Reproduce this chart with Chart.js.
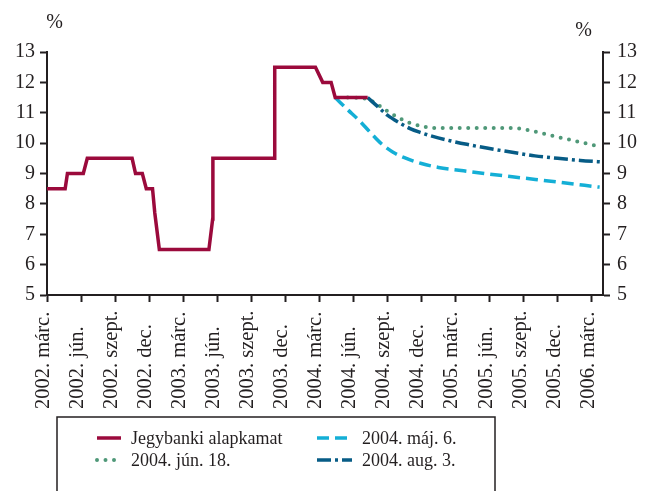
<!DOCTYPE html>
<html>
<head>
<meta charset="utf-8">
<script src="https://cdn.jsdelivr.net/npm/chart.js@4/dist/chart.umd.min.js"></script>
<style>
    body { margin: 0; background: #fff; }
    #chart { display: block; }
</style>
</head>
<body>
<canvas id="chart" width="649" height="491"></canvas>
<script>
// x values are months counted from 2002. márc. (0) on a linear scale
const tickLabels = [
    '2002. márc.', '2002. jún.', '2002. szept.', '2002. dec.',
    '2003. márc.', '2003. jún.', '2003. szept.', '2003. dec.',
    '2004. márc.', '2004. jún.', '2004. szept.', '2004. dec.',
    '2005. márc.', '2005. jún.', '2005. szept.', '2005. dec.',
    '2006. márc.'
];

// Jegybanki alapkamat
const baseMonths = [0, 1.6, 1.8, 3.2, 3.55, 7.5, 7.8, 8.4, 8.75, 9.3, 9.5, 9.9, 14.27, 14.6, 14.62, 20.05, 20.07, 23.66, 24.3, 25.04, 25.4, 28.26];
const baseRates = [8.5, 8.5, 9.0, 9.0, 9.5, 9.5, 9.0, 9.0, 8.5, 8.5, 7.7, 6.5, 6.5, 7.5, 9.5, 9.5, 12.5, 12.5, 12.0, 12.0, 11.5, 11.5];

// 2004. máj. 6.
const mayMonths = [25.4, 26.5, 27.5, 28.5, 29.5, 30.5, 31.5, 33, 34.5, 36.5, 39, 42, 45, 48.7];
const mayRates = [11.5, 11.1, 10.75, 10.35, 9.97, 9.7, 9.52, 9.33, 9.2, 9.1, 8.98, 8.85, 8.72, 8.55];

// 2004. jún. 18.
const junMonths = [26.5, 28.2, 29, 30, 31, 32, 33, 34, 37, 41, 42, 43, 44, 45, 46, 47, 48, 48.9];
const junRates = [11.5, 11.45, 11.3, 11.05, 10.83, 10.66, 10.56, 10.5, 10.5, 10.5, 10.46, 10.38, 10.29, 10.2, 10.12, 10.03, 9.95, 9.87];

// 2004. aug. 3.
const augMonths = [28.26, 29, 30, 31, 32, 33, 34, 35.5, 37, 39, 41, 43, 45, 47, 48.9];
const augRates = [11.5, 11.25, 10.92, 10.68, 10.48, 10.34, 10.22, 10.08, 9.96, 9.82, 9.7, 9.58, 9.5, 9.43, 9.38];

const INK = '#231f20';
const FONT = '"Liberation Serif", "Times New Roman", serif';

function toPoints(xs, ys) {
    return xs.map((x, i) => ({ x: x, y: ys[i] }));
}

// draws % signs, rotated x labels and the boxed legend
const extrasPlugin = {
    id: 'extras',
    afterDraw(chart) {
        const ctx = chart.ctx;
        const xScale = chart.scales.x;
        ctx.save();
        ctx.fillStyle = INK;

        // % signs above both axes
        ctx.font = '20px ' + FONT;
        ctx.textAlign = 'center';
        ctx.textBaseline = 'middle';
        ctx.fillText('%', 54.5, 23);
        ctx.fillText('%', 583.5, 31);

        // x labels, reading upwards, starting at the same height
        ctx.font = '20.5px ' + FONT;
        xScale.ticks.forEach(t => {
            const label = tickLabels[Math.round(t.value / 3)];
            if (!label) return;
            ctx.save();
            ctx.translate(xScale.getPixelForValue(t.value) + 2, 409);
            ctx.rotate(-Math.PI / 2);
            ctx.textAlign = 'left';
            ctx.textBaseline = 'alphabetic';
            ctx.fillText(label, 0, 0);
            ctx.restore();
        });

        // legend box
        ctx.strokeStyle = INK;
        ctx.lineWidth = 1.5;
        ctx.strokeRect(57, 417, 438, 120);

        const slots = [
            { x: 97, w: 24, y: 438 },
            { x: 317, w: 35, y: 438 },
            { x: 97, w: 24, y: 460 },
            { x: 317, w: 35, y: 460 }
        ];
        ctx.font = '18px ' + FONT;
        ctx.textAlign = 'left';
        ctx.textBaseline = 'middle';
        chart.data.datasets.forEach((ds, i) => {
            const s = slots[i];
            ctx.save();
            ctx.strokeStyle = ds.borderColor;
            ctx.lineWidth = ds.borderWidth;
            ctx.lineCap = ds.borderCapStyle || 'butt';
            ctx.setLineDash(ds.borderDash || []);
            ctx.beginPath();
            ctx.moveTo(s.x, s.y);
            ctx.lineTo(s.x + s.w, s.y);
            ctx.stroke();
            ctx.restore();
            ctx.fillText(ds.label, s.x + s.w + 10, s.y + 1);
        });
        ctx.restore();
    }
};

const axisGrid = {
    drawOnChartArea: false,
    drawTicks: true,
    tickLength: 7,
    tickWidth: 2,
    tickColor: INK
};
const axisBorder = { color: INK, width: 2 };

new Chart(document.getElementById('chart'), {
    type: 'line',
    data: {
        datasets: [
            {
                label: 'Jegybanki alapkamat',
                data: toPoints(baseMonths, baseRates),
                borderColor: '#9b0a3c',
                borderWidth: 3.5,
                borderJoinStyle: 'miter',
                pointRadius: 0,
                tension: 0,
                order: 0
            },
            {
                label: '2004. máj. 6.',
                data: toPoints(mayMonths, mayRates),
                borderColor: '#14afd6',
                borderWidth: 3.5,
                borderDash: [12, 6],
                pointRadius: 0,
                cubicInterpolationMode: 'monotone',
                order: 1
            },
            {
                label: '2004. jún. 18.',
                data: toPoints(junMonths, junRates),
                borderColor: '#4f9878',
                borderWidth: 4,
                borderDash: [0, 8.5],
                borderCapStyle: 'round',
                pointRadius: 0,
                cubicInterpolationMode: 'monotone',
                order: 2
            },
            {
                label: '2004. aug. 3.',
                data: toPoints(augMonths, augRates),
                borderColor: '#075c86',
                borderWidth: 3.5,
                borderDash: [14, 4, 3, 4],
                pointRadius: 0,
                cubicInterpolationMode: 'monotone',
                order: 1
            }
        ]
    },
    options: {
        responsive: false,
        animation: false,
        devicePixelRatio: 1,
        layout: { padding: { top: 52, left: 0, right: 0, bottom: 0 } },
        plugins: {
            legend: { display: false },
            tooltip: { enabled: false }
        },
        scales: {
            x: {
                type: 'linear',
                position: 'bottom',
                min: 0,
                max: 49,
                ticks: { display: false },
                // one tick per quarter, one for each label
                afterBuildTicks: s => { s.ticks = tickLabels.map((_, i) => ({ value: i * 3 })); },
                afterFit: s => { s.height = 196; },
                grid: axisGrid,
                border: axisBorder
            },
            y: {
                position: 'left',
                min: 5,
                max: 13,
                ticks: { stepSize: 1, padding: 5, color: INK, font: { family: FONT, size: 20 } },
                afterFit: s => { s.width = 47; },
                grid: axisGrid,
                border: axisBorder
            },
            y2: {
                position: 'right',
                min: 5,
                max: 13,
                ticks: { stepSize: 1, padding: 7, color: INK, font: { family: FONT, size: 20 } },
                afterFit: s => { s.width = 46; },
                grid: axisGrid,
                border: axisBorder
            }
        }
    },
    plugins: [extrasPlugin]
});
</script>
</body>
</html>
